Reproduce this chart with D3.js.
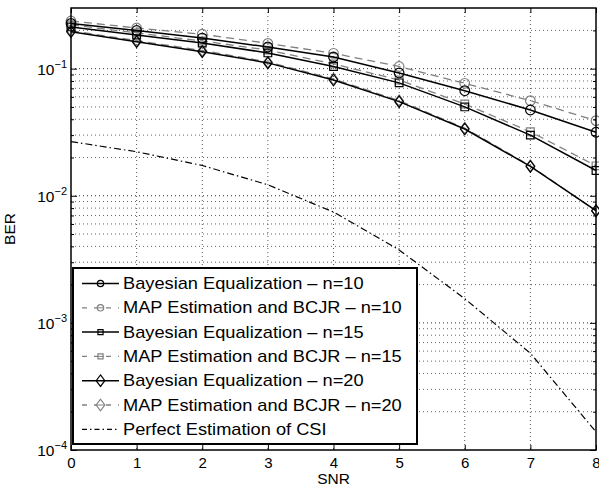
<!DOCTYPE html>
<html>
<head>
<meta charset="utf-8">
<script src="https://cdn.jsdelivr.net/npm/d3@7"></script>
<style>
  body { margin: 0; background: #fff; }
  text { font-family: "Liberation Sans", Arial, sans-serif; fill: #000; }
</style>
</head>
<body>
<svg class="chart"></svg>
<script>
// SNR values on the x axis
var snr = [0, 1, 2, 3, 4, 5, 6, 7, 8];

// BER values
var bayes10 = [0.227, 0.1995, 0.174, 0.148, 0.1236, 0.0924, 0.0671, 0.0473, 0.0316];
var map10   = [0.237, 0.209, 0.1866, 0.158, 0.132, 0.104, 0.0767, 0.056, 0.039];
var bayes15 = [0.213, 0.184, 0.159, 0.133, 0.104, 0.0773, 0.050, 0.030, 0.0158];
var map15   = [0.221, 0.191, 0.165, 0.140, 0.109, 0.0814, 0.0527, 0.0319, 0.0172];
var bayes20 = [0.195, 0.163, 0.136, 0.111, 0.0814, 0.055, 0.0335, 0.0170, 0.00764];
var map20   = [0.199, 0.166, 0.139, 0.113, 0.083, 0.056, 0.034, 0.0172, 0.0076];
var perfect = [0.0267, 0.0222, 0.0173, 0.0122, 0.00745, 0.00375, 0.00155, 0.000577, 0.000139];

var xTicks = [0, 1, 2, 3, 4, 5, 6, 7, 8];
var yMajor = [1e-4, 1e-3, 1e-2, 1e-1];
var yExp = ["\u22124", "\u22123", "\u22122", "\u22121"];

var legendLabels = [
    "Bayesian Equalization \u2013 n=10",
    "MAP Estimation and BCJR \u2013 n=10",
    "Bayesian Equalization \u2013 n=15",
    "MAP Estimation and BCJR \u2013 n=15",
    "Bayesian Equalization \u2013 n=20",
    "MAP Estimation and BCJR \u2013 n=20",
    "Perfect Estimation of CSI"
];

(function show() {
    'use strict';

    var margin = {top: 8, bottom: 40, right: 3, left: 71},
        width = 599 - margin.left - margin.right,
        height = 490 - margin.top - margin.bottom;

    var svg = d3.select(".chart")
        .attr("width", 599)
        .attr("height", 490);

    var chart = svg.append("g")
        .attr("transform", "translate(" + margin.left + "," + margin.top + ")");

    var scaleX = d3.scaleLinear().domain([0, 8]).range([0, width]);
    var scaleY = d3.scaleLog().domain([1e-4, 0.3]).range([height, 0]);

    // minor y positions 2..9 in every decade
    var yMinor = [];
    yMajor.forEach(function(m) {
        for (var k = 2; k <= 9; k++) {
            if (m * k <= 0.3) yMinor.push(m * k);
        }
    });

    // dotted grid
    var grid = chart.append("g");
    grid.selectAll(".gx").data(xTicks.slice(1, -1))
        .enter().append("line")
        .attr("x1", function(d) { return scaleX(d); })
        .attr("x2", function(d) { return scaleX(d); })
        .attr("y1", 0).attr("y2", height)
        .attr("stroke", "#555").attr("stroke-width", 1)
        .attr("stroke-dasharray", "1,3");
    grid.selectAll(".gy").data(yMajor.slice(1).concat(yMinor))
        .enter().append("line")
        .attr("x1", 0).attr("x2", width)
        .attr("y1", function(d) { return scaleY(d); })
        .attr("y2", function(d) { return scaleY(d); })
        .attr("stroke", function(d) { return yMajor.indexOf(d) >= 0 ? "#333" : "#666"; })
        .attr("stroke-width", 1)
        .attr("stroke-dasharray", "1,3");

    // curves
    var series = [
        {v: perfect, color: "#000", dash: "7,3,1.5,3", marker: null, w: 1.2},
        {v: map10, color: "#808080", dash: "8,5", marker: "circle", w: 1.3},
        {v: map15, color: "#808080", dash: "8,5", marker: "square", w: 1.3},
        {v: map20, color: "#808080", dash: "8,5", marker: "diamond", w: 1.3},
        {v: bayes10, color: "#000", dash: null, marker: "circle", w: 1.5},
        {v: bayes15, color: "#000", dash: null, marker: "square", w: 1.5},
        {v: bayes20, color: "#000", dash: null, marker: "diamond", w: 1.5}
    ];

    var line = d3.line()
        .x(function(d, i) { return scaleX(snr[i]); })
        .y(function(d) { return scaleY(d); });

    function markerPath(type, s) {
        if (type === "circle") return d3.symbol().type(d3.symbolCircle).size(Math.PI * s * s)();
        if (type === "square") return "M" + (-s * 0.8) + "," + (-s * 0.8) + "h" + (1.6 * s) + "v" + (1.6 * s) + "h" + (-1.6 * s) + "Z";
        return "M0," + (-s * 1.2) + "L" + (s * 0.9) + ",0L0," + (s * 1.2) + "L" + (-s * 0.9) + ",0Z";
    }

    series.forEach(function(s) {
        var g = chart.append("g");
        g.append("path")
            .attr("d", line(s.v))
            .attr("fill", "none")
            .attr("stroke", s.color)
            .attr("stroke-width", s.w)
            .attr("stroke-dasharray", s.dash);
        if (s.marker) {
            g.selectAll("path.m").data(s.v)
                .enter().append("path")
                .attr("class", "m")
                .attr("transform", function(d, i) { return "translate(" + scaleX(snr[i]) + "," + scaleY(d) + ")"; })
                .attr("d", markerPath(s.marker, 4.8))
                .attr("fill", "none")
                .attr("stroke", s.color)
                .attr("stroke-width", 1.2);
        }
    });

    // axes: ticks inward, on all four sides
    var bottomAxis = d3.axisBottom(scaleX).tickValues(xTicks).tickSizeInner(-5).tickSizeOuter(0).tickPadding(7);
    var gb = chart.append("g")
        .attr("transform", "translate(0," + height + ")")
        .call(bottomAxis);
    gb.selectAll("text").attr("font-size", 15).attr("font-family", "Liberation Sans, Arial, sans-serif");

    var topAxis = d3.axisTop(scaleX).tickValues(xTicks).tickSizeInner(-5).tickSizeOuter(0).tickFormat("");
    chart.append("g").call(topAxis);

    var leftAxis = d3.axisLeft(scaleY).tickValues(yMajor).tickSizeInner(-6).tickSizeOuter(0).tickFormat("");
    chart.append("g").call(leftAxis);
    var rightAxis = d3.axisRight(scaleY).tickValues(yMajor).tickSizeInner(-6).tickSizeOuter(0).tickFormat("");
    chart.append("g").attr("transform", "translate(" + width + ",0)").call(rightAxis);

    var leftMinor = d3.axisLeft(scaleY).tickValues(yMinor).tickSizeInner(-3).tickSizeOuter(0).tickFormat("");
    chart.append("g").call(leftMinor);
    var rightMinor = d3.axisRight(scaleY).tickValues(yMinor).tickSizeInner(-3).tickSizeOuter(0).tickFormat("");
    chart.append("g").attr("transform", "translate(" + width + ",0)").call(rightMinor);

    chart.selectAll(".domain").remove();
    chart.selectAll(".tick line").attr("stroke", "#000");

    // frame
    chart.append("rect")
        .attr("x", 0).attr("y", 0)
        .attr("width", width).attr("height", height)
        .attr("fill", "none").attr("stroke", "#000").attr("stroke-width", 1.5);

    // y tick labels as 10^k
    var ylab = chart.append("g");
    yMajor.forEach(function(m, i) {
        var t = ylab.append("text")
            .attr("x", -4)
            .attr("y", scaleY(m) + 6)
            .attr("text-anchor", "end")
            .attr("font-size", 15.5);
        t.append("tspan").text("10");
        t.append("tspan").attr("dy", -7).attr("font-size", 11).text(yExp[i]);
    });

    // axis titles
    svg.append("text")
        .attr("x", margin.left + width / 2)
        .attr("y", 484)
        .attr("text-anchor", "middle")
        .attr("font-size", 15.5)
        .text("SNR");
    svg.append("text")
        .attr("transform", "translate(15," + (margin.top + height / 2) + ") rotate(-90)")
        .attr("text-anchor", "middle")
        .attr("font-size", 15.5)
        .text("BER");

    // legend
    var legend = chart.append("g").attr("transform", "translate(2," + (268 - margin.top) + ")");
    legend.append("rect")
        .attr("width", 344).attr("height", 176)
        .attr("fill", "#fff").attr("stroke", "#000").attr("stroke-width", 2);

    var legendOrder = [4, 1, 5, 2, 6, 3, 0];
    legendOrder.forEach(function(si, i) {
        var s = series[si];
        var y = 15.5 + i * 24.3;
        var row = legend.append("g").attr("transform", "translate(0," + y + ")");
        if (s.dash) {
            var dash = s.marker ? "5,7" : "5,3,1.5,3";
            row.append("line")
                .attr("x1", 9).attr("x2", 46).attr("y1", 0).attr("y2", 0)
                .attr("stroke", s.color).attr("stroke-width", s.w)
                .attr("stroke-dasharray", dash);
        } else {
            row.append("line")
                .attr("x1", 9).attr("x2", 46).attr("y1", 0).attr("y2", 0)
                .attr("stroke", s.color).attr("stroke-width", s.w);
        }
        if (s.marker) {
            row.append("path")
                .attr("transform", "translate(27.5,0)")
                .attr("d", markerPath(s.marker, s.marker === "diamond" ? 4.8 : 3.2))
                .attr("fill", s.dash ? "#fff" : "none")
                .attr("stroke", s.color)
                .attr("stroke-width", 1.2);
            if (s.dash) {
                row.append("line")
                    .attr("x1", 24).attr("x2", 31).attr("y1", 0).attr("y2", 0)
                    .attr("stroke", s.color).attr("stroke-width", 1);
            }
        }
        row.append("text")
            .attr("transform", "translate(50,5.5) scale(1.14,1)")
            .attr("font-size", 16)
            .text(legendLabels[i]);
    });
})();
</script>
</body>
</html>
